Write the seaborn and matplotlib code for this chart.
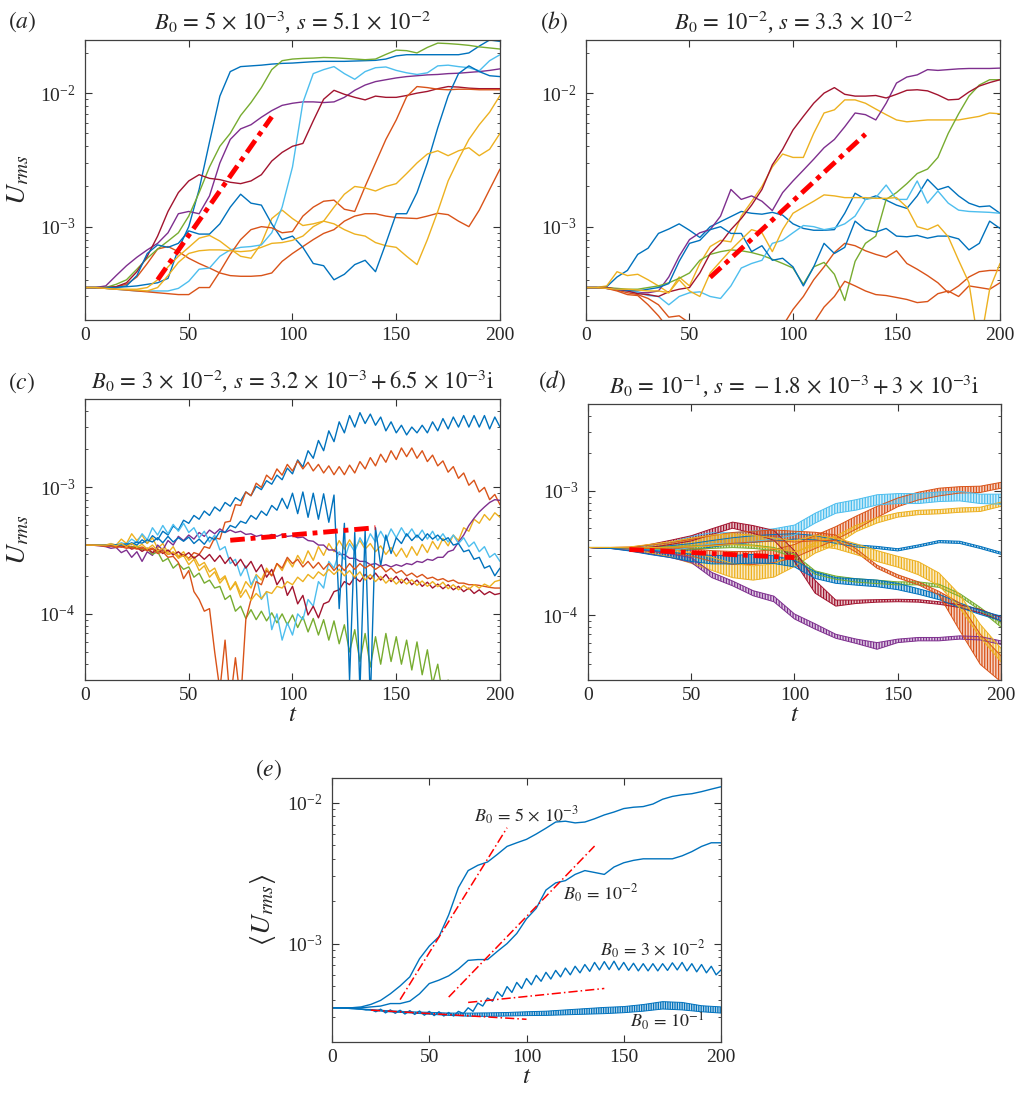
"""
Growth of U_rms for several B0 values, five panels (a)-(e)
"""

import numpy as np
import matplotlib
matplotlib.use("Agg")
import matplotlib.pyplot as plt
from matplotlib.colors import to_rgba
from matplotlib.ticker import NullLocator
import seaborn as sns

# MATLAB default colour order
BLUE, ORANGE, YELLOW, PURPLE = "#0072BD", "#D95319", "#EDB120", "#7E2F8E"
GREEN, LBLUE, DRED = "#77AC30", "#4DBEEE", "#A2142F"

# time grids
t5 = np.arange(0, 201, 5)
t25 = np.arange(0, 200.01, 2.5)
t10 = np.arange(0, 201, 10)

# ---- panel (a), B0 = 5e-3, values in units of 1e-4 on t5
a_blue1 = [3.5, 3.5, 3.5, 3.52, 3.55, 3.6, 3.7, 3.8, 4.1, 6.8, 10, 19, 43, 95, 145, 158, 160, 162, 165, 167,
           168, 170, 172, 173, 173, 173, 174, 175, 176, 180, 190, 194, 194, 194, 194, 194, 194, 200, 225, 250, 244]
a_orangeA = [3.5, 3.5, 3.5, 3.55, 3.7, 4.2, 5.3, 6.8, 7.1, 6.5, 5.8, 5.3, 4.9, 4.5, 4.3, 4.25, 4.25, 4.3, 4.5, 5.5,
             6.3, 7.1, 8.0, 8.9, 9.5, 11, 12, 12.5, 12.5, 12.0, 11.7, 11.6, 11.5, 12.0, 12.6, 12.3, 11.0, 10.0, 13.3, 19, 27]
a_yellowA = [3.5, 3.5, 3.45, 3.4, 3.4, 3.4, 3.5, 4.0, 5.0, 6.0, 7.0, 8.2, 8.6, 7.8, 6.8, 6.0, 5.8, 7.5, 11.5, 13.3,
             11.5, 10.2, 10.5, 11.0, 10.5, 9.5, 8.8, 8.5, 7.6, 7.2, 7.0, 6.0, 5.2, 8.0, 13, 22, 32, 45, 58, 72, 96]
a_purple = [3.5, 3.5, 3.6, 4.3, 5.1, 5.9, 6.7, 7.5, 9.0, 12.5, 13, 12.5, 17, 30, 45, 54, 58, 66, 74, 81,
            84, 86, 86, 85, 86, 93, 105, 115, 122, 126, 130, 133, 135, 137, 138, 140, 141, 143, 145, 148, 152]
a_green = [3.5, 3.5, 3.5, 3.7, 4.0, 4.8, 5.8, 6.8, 7.8, 9.0, 12, 18, 28, 40, 50, 68, 85, 110, 150, 175,
           180, 182, 183, 185, 184, 182, 180, 178, 180, 195, 210, 208, 200, 220, 237, 235, 232, 228, 222, 218, 214]
a_lightblue = [3.5, 3.5, 3.45, 3.4, 3.35, 3.3, 3.3, 3.3, 3.3, 3.45, 3.9, 4.8, 4.9, 6.0, 6.7, 7.0, 7.1, 7.3, 9.0, 14,
               28, 85, 140, 150, 158, 140, 127, 145, 155, 157, 148, 142, 138, 142, 160, 162, 158, 155, 147, 175, 194]
a_darkred = [3.5, 3.5, 3.5, 3.55, 3.8, 4.6, 6.0, 8.5, 13, 18, 22, 24.5, 23, 22.5, 21.5, 21, 22, 24.5, 31, 36,
             40, 42, 62, 90, 105, 98, 93, 89, 95, 93, 93, 96, 100, 103, 108, 112, 111, 109, 108, 108, 108]
a_blue2 = [3.5, 3.5, 3.5, 3.5, 3.6, 4.3, 6.3, 7.3, 7.0, 7.5, 9.3, 8.8, 8.8, 10.5, 14, 17.5, 15, 14.5, 10.5, 8.0,
           8.5, 7.0, 5.3, 5.1, 4.0, 4.4, 5.2, 5.6, 4.6, 7.5, 12.5, 12.5, 18, 30, 55, 95, 140, 160, 145, 135, 133]
a_orangeB = [3.5, 3.5, 3.45, 3.4, 3.35, 3.3, 3.25, 3.2, 3.15, 3.1, 3.1, 3.5, 3.5, 4.6, 6.2, 8.0, 9.5, 10, 9.8, 9.0,
             9.2, 12, 14, 15.5, 15.8, 13.5, 13, 20, 30, 45, 63, 94, 112, 110, 107, 106, 107, 107, 106, 106, 106]
a_yellowB = [3.5, 3.5, 3.45, 3.4, 3.38, 3.35, 3.3, 3.5, 4.3, 5.4, 6.3, 6.6, 6.7, 6.7, 6.6, 6.5, 6.6, 7.0, 7.5, 7.6,
             7.9, 8.5, 10, 11, 14, 17.5, 20, 19.5, 18.5, 20, 21, 25, 30, 35, 37, 34, 37, 39, 34, 38, 50]

# ---- panel (b), B0 = 1e-2, units of 1e-4 on t5
b_blueA = [3.5, 3.5, 3.55, 4.2, 4.7, 6.2, 6.9, 8.9, 9.6, 10.5, 9.4, 8.3, 10, 10.9, 11.9, 13, 12.6, 12.4, 12.8, 12.2,
           10.5, 9.7, 9.4, 9.4, 9.5, 12.6, 17.8, 16, 17, 15.8, 14.5, 13.7, 17, 22.6, 18.9, 20, 17, 15, 14.1, 14.3, 12.6]
b_orangeA = [3.5, 3.5, 3.45, 3.35, 3.2, 3.1, 2.9, 2.6, 2.1, 2.15, 1.9, 1.2, 1.0, 1.0, 1.0, 1.0, 1.0, 1.0, 1.0, 1.8,
             2.4, 3.0, 4.0, 5.0, 6.4, 7.5, 7.2, 6.6, 6.2, 5.9, 6.6, 5.3, 4.8, 4.3, 3.8, 3.2, 3.6, 4.2, 4.6, 4.7, 4.7]
b_yellowA = [3.5, 3.5, 3.6, 4.6, 4.3, 4.4, 4.0, 3.6, 3.2, 4.2, 3.6, 5.3, 7.1, 7.9, 7.7, 12, 15.4, 20, 28, 35,
             33, 33, 50, 71, 75, 89, 89, 84, 76, 69, 63, 61, 62, 63, 63, 63, 63, 65, 67, 71, 70]
b_purple = [3.5, 3.5, 3.45, 3.4, 3.3, 3.2, 3.2, 3.3, 4.2, 6.0, 8.0, 9.0, 9.5, 12, 19, 16, 17, 15.5, 13.2, 18,
            22, 26.5, 32, 39, 45, 56, 71, 69, 63, 84, 119, 132, 137, 150, 148, 150, 152, 153, 153, 153, 154]
b_green = [3.5, 3.5, 3.5, 3.45, 3.4, 3.4, 3.5, 3.6, 3.8, 4.1, 4.5, 5.6, 6.2, 6.5, 6.7, 6.6, 6.4, 6.1, 5.7, 5.3,
           4.9, 3.7, 5.0, 5.4, 4.4, 2.8, 5.5, 7.5, 8.5, 16, 18, 21, 25, 27, 33, 50, 70, 95, 115, 126, 126]
b_lightblue = [3.5, 3.5, 3.45, 3.4, 3.3, 3.2, 3.05, 3.0, 2.6, 3.0, 3.2, 3.25, 3.0, 2.9, 3.6, 4.9, 5.3, 5.6, 7.5, 7.9,
               9.0, 10.2, 10, 9.5, 9.8, 10.5, 12, 16, 16.5, 20.5, 16, 16, 22, 15, 18.5, 15, 13.3, 13, 12.9, 12.8, 12.6]
b_darkred = [3.5, 3.5, 3.5, 3.4, 3.3, 3.15, 3.1, 3.0, 3.25, 3.4, 3.5, 4.5, 6.3, 7.5, 9.5, 11.5, 14.5, 19, 29, 38,
             53, 67, 84, 100, 110, 98, 95, 95, 96, 92, 98, 105, 106, 104, 97, 89, 90, 102, 113, 120, 126]
b_blueB = [3.5, 3.5, 3.45, 3.4, 3.35, 3.3, 3.4, 3.5, 3.75, 5.5, 7.5, 7.9, 9.5, 10, 8.9, 8.9, 6.5, 7.2, 5.6, 5.8,
           5.0, 3.6, 5.0, 7.5, 6.3, 7.0, 11, 9.5, 9.1, 9.7, 8.5, 8.4, 8.6, 8.2, 8.5, 8.5, 8.1, 6.7, 7.5, 11, 9.7]
b_orangeB = [3.5, 3.5, 3.45, 3.3, 3.1, 3.05, 2.6, 2.15, 1.7, 1.2, 1.0, 1.0, 1.0, 1.0, 1.0, 1.0, 1.0, 1.0, 1.0, 1.0,
             1.0, 1.3, 1.9, 2.5, 3.0, 3.9, 3.6, 3.3, 3.1, 3.05, 2.95, 2.85, 2.7, 2.75, 3.15, 3.3, 3.0, 3.6, 3.5, 3.4, 3.8]
b_yellowB = [3.5, 3.5, 3.45, 3.4, 3.4, 3.35, 3.3, 3.3, 3.2, 4.0, 3.3, 3.0, 4.5, 5.5, 6.7, 8.0, 9.5, 9.0, 6.5, 9.5,
             12.6, 14, 15.5, 17.3, 17, 16.5, 16.5, 16.5, 16.3, 16.3, 16.5, 14, 10, 9.5, 10.3, 8.4, 5.6, 3.8, 1.2, 3.4, 5.3]

# ---- panel (c), B0 = 3e-2, units of 1e-4 on t25
c_blue1 = [3.5, 3.5, 3.5, 3.5, 3.5, 3.52, 3.5, 3.56, 3.48, 3.65,
           3.5, 3.85, 3.62, 4.15, 3.85, 4.5, 4.2, 4.95, 4.6, 5.5,
           5.2, 6.0, 5.6, 6.5, 6.0, 7.0, 6.5, 7.6, 7.1, 8.3,
           7.8, 9.2, 8.6, 10.2, 9.6, 11.3, 10.6, 12.5, 11.5, 14.2,
           12.8, 16.5, 14.5, 19.5, 17.0, 23.5, 19.5, 28, 23, 33,
           27, 37, 30, 39, 32, 38, 31, 36, 28, 33,
           27, 31, 26, 30, 27, 31, 27, 33, 28, 35,
           29, 36, 30, 37, 30, 37, 30, 37, 29, 36,
           30]
c_orange1 = [3.5, 3.5, 3.5, 3.48, 3.46, 3.47, 3.42, 3.45, 3.38, 3.42,
             3.3, 3.38, 3.22, 3.32, 3.1, 3.2, 2.95, 3.05, 2.82, 2.95,
             2.75, 3.05, 2.95, 3.4, 3.3, 4.0, 3.9, 5.3, 5.4, 7.3,
             7.2, 9.2, 8.6, 10.8, 10.0, 12.5, 11.5, 14.0, 12.5, 15.2,
             13.5, 16.2, 14.0, 15.8, 13.5, 15.2, 13.0, 14.8, 12.6, 14.6,
             12.6, 15.0, 13.0, 16.0, 14.0, 17.2, 14.8, 18.3, 15.8, 19.5,
             16.6, 20.5, 17.5, 20.5, 17.0, 19.5, 16.0, 18.0, 14.8, 16.2,
             13.2, 14.6, 11.8, 13.0, 10.4, 11.4, 9.2, 10.0, 8.0, 8.8,
             7.3]
c_yellow1 = [3.5, 3.5, 3.5, 3.52, 3.5, 3.6, 3.5, 3.9, 3.6, 4.3,
             3.8, 4.2, 3.6, 4.0, 3.3, 3.6, 3.05, 3.4, 2.85, 3.1,
             2.65, 2.85, 2.4, 2.55, 2.15, 2.3, 1.85, 2.0, 1.55, 1.8,
             1.45, 1.8, 1.6, 2.05, 1.85, 2.3, 2.0, 2.5, 2.2, 2.7,
             2.35, 2.9, 2.5, 3.15, 2.65, 3.4, 2.9, 3.6, 3.1, 3.8,
             3.25, 3.85, 3.3, 3.8, 3.25, 3.6, 3.1, 3.45, 2.95, 3.35,
             2.85, 3.3, 2.8, 3.4, 2.9, 3.55, 3.05, 3.75, 3.25, 3.95,
             3.45, 4.2, 3.8, 4.8, 4.5, 5.6, 5.2, 6.1, 5.5, 6.3,
             5.8]
c_purple = [3.5, 3.5, 3.48, 3.45, 3.4, 3.3, 3.35, 3.05, 3.2, 2.8,
            3.1, 2.6, 3.1, 2.9, 3.5, 3.2, 3.8, 3.5, 4.1, 3.8,
            4.2, 3.9, 4.4, 4.1, 4.6, 4.3, 4.7, 4.4, 4.6, 4.4,
            4.5, 4.25, 4.3, 4.1, 4.2, 4.05, 4.25, 4.1, 4.25, 4.1,
            4.15, 4.0, 4.05, 3.8, 3.75, 3.5, 3.5, 3.2, 3.2, 2.95,
            2.95, 2.75, 2.75, 2.6, 2.6, 2.45, 2.5, 2.38, 2.45, 2.35,
            2.45, 2.38, 2.5, 2.45, 2.6, 2.55, 2.7, 2.65, 2.8, 2.8,
            3.1, 3.2, 3.7, 4.2, 5.0, 5.7, 6.4, 7.0, 7.6, 8.0,
            7.9]
c_green = [3.5, 3.5, 3.5, 3.48, 3.5, 3.45, 3.5, 3.4, 3.5, 3.35,
           3.45, 3.2, 3.3, 2.95, 3.1, 2.6, 2.75, 2.3, 2.5, 2.25,
           2.35, 1.95, 2.1, 1.75, 1.85, 1.6, 1.65, 1.3, 1.4, 1.05,
           1.15, 0.92, 1.08, 0.9, 1.05, 0.88, 1.02, 0.85, 1.0, 0.82,
           0.98, 0.78, 0.95, 0.72, 0.92, 0.68, 0.9, 0.62, 0.88, 0.58,
           0.82, 0.5, 0.75, 0.42, 0.7, 0.38, 0.66, 0.4, 0.7, 0.42,
           0.66, 0.4, 0.62, 0.36, 0.6, 0.33, 0.52, 0.28, 0.4, 0.22,
           0.3, 0.18, 0.2, 0.15, 0.15, 0.12, 0.1, 0.1, 0.1, 0.1,
           0.1]
c_lightblue = [3.5, 3.5, 3.5, 3.52, 3.5, 3.55, 3.5, 3.65, 3.55, 3.9,
               3.65, 4.3, 3.85, 4.8, 4.2, 5.0, 4.3, 5.1, 4.5, 5.2,
               4.4, 4.8, 4.0, 4.5, 3.7, 4.2, 3.2, 3.4, 2.5, 2.7,
               2.0, 2.4, 1.7, 2.0, 1.3, 1.5, 0.75, 1.0, 0.62, 0.85,
               0.68, 1.0, 0.9, 1.3, 1.15, 1.8, 1.6, 2.6, 2.3, 3.1,
               2.7, 3.6, 3.1, 4.0, 3.4, 4.3, 3.7, 4.5, 3.8, 4.7,
               4.0, 4.8, 4.1, 4.7, 4.0, 4.6, 3.9, 4.5, 3.8, 4.3,
               3.7, 4.2, 3.6, 4.0, 3.4, 3.7, 3.1, 3.4, 2.8, 3.0,
               2.6]
c_darkred = [3.5, 3.5, 3.5, 3.48, 3.5, 3.45, 3.48, 3.38, 3.45, 3.25,
             3.35, 3.12, 3.3, 3.05, 3.25, 3.0, 3.2, 2.92, 3.1, 2.85,
             3.05, 2.75, 2.95, 2.7, 2.95, 2.6, 2.9, 2.5, 2.8, 2.4,
             2.7, 2.3, 2.6, 2.15, 2.45, 1.95, 2.25, 1.7, 1.95, 1.4,
             1.65, 1.2, 1.4, 0.98, 1.15, 0.93, 1.2, 1.25, 1.5, 1.55,
             1.8, 1.7, 1.95, 1.8, 2.05, 1.88, 2.1, 1.85, 2.05, 1.8,
             1.98, 1.75, 1.92, 1.7, 1.85, 1.65, 1.78, 1.6, 1.72, 1.58,
             1.7, 1.55, 1.65, 1.5, 1.6, 1.45, 1.55, 1.42, 1.5, 1.42,
             1.45]
c_blue2 = [3.5, 3.5, 3.5, 3.5, 3.5, 3.5, 3.52, 3.5, 3.58, 3.55,
           3.7, 3.62, 3.85, 3.7, 4.0, 3.65, 4.1, 3.7, 4.0, 3.75,
           4.05, 3.6, 3.9, 3.55, 4.05, 3.85, 4.5, 4.4, 5.0, 4.8,
           5.4, 5.2, 6.0, 5.6, 6.5, 6.0, 7.2, 6.6, 8.2, 6.8,
           9.0, 6.2, 9.2, 5.8, 9.0, 5.6, 8.9, 5.3, 8.7, 1.1,
           5.2, 0.3, 4.4, 0.25, 4.6, 0.2, 4.8, 2.4, 4.2, 3.0,
           4.0, 3.6, 4.3, 3.8, 4.2, 3.8, 4.3, 3.9, 4.2, 3.8,
           4.0, 3.5, 3.6, 3.1, 3.2, 2.7, 2.8, 2.3, 2.4, 2.0,
           2.3]
c_orange2 = [3.5, 3.5, 3.48, 3.46, 3.42, 3.44, 3.35, 3.4, 3.3, 3.35,
             3.25, 3.3, 3.15, 3.25, 3.0, 3.1, 2.8, 2.85, 2.55, 1.9,
             2.2, 1.5, 1.3, 1.05, 1.1, 0.5, 0.25, 0.62, 0.2, 0.45,
             0.2, 0.9, 1.3, 1.8, 1.7, 2.2, 2.0, 2.5, 2.3, 2.8,
             2.5, 2.7, 2.35, 2.6, 2.3, 2.55, 2.25, 2.5, 2.2, 2.45,
             2.2, 2.5, 2.25, 2.5, 2.3, 2.45, 2.25, 2.4, 2.15, 2.3,
             2.1, 2.2, 2.0, 2.1, 1.95, 2.05, 1.9, 1.95, 1.85, 1.9,
             1.8, 1.85, 1.75, 1.75, 1.7, 1.7, 1.68, 1.65, 1.62, 1.6,
             1.6]
c_yellow2 = [3.5, 3.5, 3.5, 3.5, 3.5, 3.55, 3.45, 3.6, 3.4, 3.6,
             3.35, 3.55, 3.25, 3.5, 3.15, 3.3, 2.95, 3.1, 2.75, 2.9,
             2.45, 2.7, 2.2, 2.4, 1.95, 2.15, 1.75, 1.95, 1.55, 1.75,
             1.35, 1.55, 1.28, 1.45, 1.32, 1.5, 1.45, 1.65, 1.6, 1.8,
             1.7, 1.95, 1.8, 2.05, 1.9, 2.15, 2.0, 2.25, 2.05, 2.25,
             2.0, 2.2, 1.95, 2.15, 1.85, 2.05, 1.8, 1.98, 1.75, 1.92,
             1.72, 1.88, 1.72, 1.86, 1.68, 1.82, 1.65, 1.8, 1.64, 1.78,
             1.58, 1.7, 1.55, 1.68, 1.56, 1.7, 1.6, 1.72, 1.64, 1.8,
             1.85]

# ---- panel (d), B0 = 1e-1: fast oscillations, lower/upper envelope, units of 1e-4 on t10
d_blue1_lo = [3.5, 3.45, 3.37, 3.3, 3.28, 3.34, 3.53, 3.71, 3.85, 3.95, 4.09, 4.03, 3.78, 3.53, 3.43, 3.28, 3.53, 3.82, 3.77, 3.43, 3.08]
d_blue1_hi = [3.5, 3.45, 3.43, 3.5, 3.62, 3.76, 3.98, 4.19, 4.35, 4.45, 4.52, 4.37, 4.02, 3.67, 3.57, 3.42, 3.67, 3.98, 3.93, 3.57, 3.2]
d_orange1_lo = [3.5, 3.45, 3.37, 3.25, 3.14, 2.98, 2.7, 2.55, 2.55, 2.64, 2.9, 3.43, 4.05, 4.93, 6.1, 7.45, 8.45, 9.1, 9.6, 9.7, 10.5]
d_orange1_hi = [3.5, 3.45, 3.43, 3.45, 3.47, 3.42, 3.3, 3.25, 3.25, 3.36, 3.7, 4.37, 5.15, 6.27, 7.5, 8.75, 9.75, 10.5, 10.8, 10.9, 11.7]
d_yellow1_lo = [3.5, 3.45, 3.37, 3.17, 2.93, 2.61, 2.29, 2.0, 1.91, 2.02, 2.46, 3.15, 3.68, 4.7, 5.51, 6.14, 6.43, 6.53, 6.72, 6.82, 7.49]
d_yellow1_hi = [3.5, 3.45, 3.43, 3.43, 3.37, 3.19, 2.91, 2.6, 2.49, 2.58, 3.14, 3.85, 4.32, 5.3, 6.09, 6.66, 6.97, 7.07, 7.28, 7.38, 8.11]
d_purple_lo = [3.5, 3.45, 3.3, 3.1, 2.9, 2.65, 2.0, 1.72, 1.43, 1.28, 0.93, 0.77, 0.65, 0.59, 0.53, 0.6, 0.62, 0.62, 0.64, 0.63, 0.58]
d_purple_hi = [3.5, 3.45, 3.4, 3.3, 3.1, 2.9, 2.2, 1.88, 1.57, 1.42, 1.02, 0.85, 0.7, 0.64, 0.6, 0.64, 0.66, 0.66, 0.68, 0.67, 0.62]
d_green_lo = [3.5, 3.5, 3.43, 3.38, 3.35, 3.4, 3.44, 3.49, 3.44, 3.3, 2.91, 2.13, 1.94, 1.84, 1.79, 1.75, 1.75, 1.67, 1.41, 1.09, 0.8]
d_green_hi = [3.5, 3.5, 3.47, 3.52, 3.55, 3.6, 3.66, 3.71, 3.66, 3.5, 3.09, 2.27, 2.06, 1.96, 1.91, 1.85, 1.85, 1.77, 1.49, 1.15, 0.86]
d_lightblue_lo = [3.5, 3.48, 3.4, 3.35, 3.3, 3.5, 3.75, 3.75, 3.9, 4.1, 4.4, 5.5, 6.6, 7.0, 7.7, 7.9, 7.9, 8.2, 8.3, 7.9, 7.8]
d_lightblue_hi = [3.5, 3.48, 3.5, 3.65, 3.85, 4.3, 4.6, 4.6, 4.75, 4.95, 5.3, 6.6, 7.9, 8.5, 9.3, 9.5, 9.5, 9.8, 9.9, 9.4, 9.4]
d_darkred_lo = [3.5, 3.45, 3.42, 3.5, 3.7, 3.95, 4.45, 5.0, 4.55, 4.0, 2.7, 1.5, 1.18, 1.24, 1.27, 1.28, 1.27, 1.22, 1.15, 1.04, 0.9]
d_darkred_hi = [3.5, 3.45, 3.48, 3.7, 4.0, 4.35, 4.95, 5.6, 5.25, 4.8, 3.3, 1.9, 1.32, 1.32, 1.33, 1.34, 1.33, 1.28, 1.21, 1.11, 0.96]
d_blue2_lo = [3.5, 3.45, 3.28, 3.07, 2.9, 2.7, 2.58, 2.58, 2.62, 2.6, 2.44, 1.97, 1.8, 1.74, 1.69, 1.6, 1.47, 1.33, 1.15, 1.01, 0.9]
d_blue2_hi = [3.5, 3.45, 3.42, 3.33, 3.2, 3.1, 3.02, 3.02, 3.08, 3.0, 2.76, 2.23, 2.0, 1.96, 1.91, 1.8, 1.63, 1.47, 1.25, 1.09, 0.98]
d_orange2_lo = [3.5, 3.5, 3.47, 3.44, 3.47, 3.53, 3.64, 3.78, 3.87, 3.96, 3.87, 3.96, 3.99, 3.2, 2.38, 1.99, 1.75, 1.45, 0.75, 0.4, 0.29]
d_orange2_hi = [3.5, 3.5, 3.53, 3.66, 3.83, 4.07, 4.36, 4.62, 4.73, 4.84, 4.73, 4.64, 4.41, 3.4, 2.52, 2.11, 1.85, 1.55, 1.25, 0.7, 0.47]
d_yellow2_lo = [3.5, 3.5, 3.47, 3.49, 3.52, 3.54, 3.6, 3.69, 3.6, 3.42, 3.24, 3.6, 3.42, 3.06, 2.7, 2.43, 2.11, 1.72, 1.14, 0.66, 0.42]
d_yellow2_hi = [3.5, 3.5, 3.53, 3.71, 3.89, 4.16, 4.4, 4.51, 4.4, 4.18, 3.96, 4.4, 4.18, 3.74, 3.3, 2.97, 2.69, 2.18, 1.46, 0.84, 0.54]

# ---- panel (e), ensemble averages, units of 1e-4
e_b5e3 = [3.5, 3.5, 3.5, 3.55, 3.7, 3.95, 4.4, 5.0, 5.8, 7.8, 9.6, 11.2, 16, 25, 33, 36, 38, 43, 49, 52,
          55, 60, 66, 73, 74, 72, 73, 77, 82, 86, 91, 93, 94, 98, 106, 111, 114, 116, 120, 125, 130]
e_b1e2 = [3.5, 3.5, 3.5, 3.5, 3.55, 3.6, 3.75, 3.75, 3.9, 4.4, 5.2, 5.5, 5.9, 6.6, 7.6, 7.7, 7.7, 8.8, 10, 11.8,
          15, 17.8, 24, 27, 28, 31, 33, 32, 31, 35, 37.5, 39, 40, 40, 40, 40, 42, 45, 49, 52, 52]
e_b3e2 = [3.5, 3.5, 3.49, 3.48, 3.45, 3.43, 3.42, 3.38, 3.40, 3.28,
          3.42, 3.22, 3.38, 3.2, 3.36, 3.16, 3.34, 3.14, 3.32, 3.1,
          3.3, 3.08, 3.28, 3.06, 3.24, 3.06, 3.3, 3.18, 3.5, 3.3,
          3.78, 3.6, 4.1, 3.9, 4.55, 4.2, 4.95, 4.5, 5.3, 4.8,
          5.65, 5.1, 5.95, 5.4, 6.25, 5.6, 6.45, 5.8, 6.7, 6.0,
          6.9, 6.2, 7.1, 6.35, 7.35, 6.5, 7.45, 6.55, 7.5, 6.5,
          7.35, 6.45, 7.25, 6.4, 7.2, 6.4, 7.2, 6.4, 7.2, 6.45,
          7.3, 6.5, 7.35, 6.4, 7.2, 6.3, 7.1, 6.2, 6.9, 6.0,
          6.5]
e_b1e1_lo = [3.5, 3.48, 3.36, 3.27, 3.22, 3.15, 3.09, 3.05, 3.04, 3.06, 3.08, 3.09, 3.12, 3.15, 3.18, 3.23, 3.31, 3.43, 3.38, 3.28, 3.21]
e_b1e1_hi = [3.5, 3.48, 3.40, 3.33, 3.28, 3.25, 3.21, 3.21, 3.22, 3.24, 3.28, 3.31, 3.38, 3.45, 3.52, 3.57, 3.69, 3.87, 3.82, 3.62, 3.55]
e_label_text = [r"$B_0 \,=\, 5 \,\times\, 10^{-3}$", r"$B_0 \,=\, 10^{-2}$",
                r"$B_0 \,=\, 3 \,\times\, 10^{-2}$", r"$B_0 \,=\, 10^{-1}$"]
e_label_t = [73, 119, 138, 153]
e_label_u = [8.1e-3, 2.27e-3, 9.0e-4, 2.8e-4]

# exponential fits exp(s t): start/end time and value, for B0 = 5e-3, 1e-2, 3e-2, 1e-1
fit_t_start = [35, 60, 70, 20]
fit_t_end = [90, 135, 140, 100]
fit_u_start = [4.0e-4, 4.17e-4, 3.82e-4, 3.37e-4]
fit_u_end = [6.65e-3, 4.93e-3, 4.8e-4, 2.9e-4]

titles = [r"$B_0 \,=\, 5 \,\times\, 10^{-3}$, $s \,=\, 5.1 \,\times\, 10^{-2}$",
          r"$B_0 \,=\, 10^{-2}$, $s \,=\, 3.3 \,\times\, 10^{-2}$",
          r"$B_0 \,=\, 3 \,\times\, 10^{-2}$, $s \,=\, 3.2 \,\times\, 10^{-3} + 6.5 \,\times\, 10^{-3}\mathrm{i}$",
          r"$B_0 \,=\, 10^{-1}$, $s \,=\, -1.8 \,\times\, 10^{-3} + 3 \,\times\, 10^{-3}\mathrm{i}$"]

sns.set_theme(style="ticks")
plt.rcParams["font.family"] = ["Liberation Serif", "DejaVu Serif"]
plt.rcParams["mathtext.fontset"] = "stix"
plt.rcParams["hatch.linewidth"] = 0.9

W, H = 1020, 1098
fig = plt.figure(figsize=(W / 100, H / 100), dpi=100)


def px_axes(l, t, r, b):
    return fig.add_axes([l / W, 1 - b / H, (r - l) / W, (b - t) / H])


def draw(ax, t, vals, color, lw=1.0):
    sns.lineplot(x=t, y=np.asarray(vals) * 1e-4, color=color, linewidth=lw,
                 ax=ax, estimator=None, sort=False, legend=False)


def band(ax, t, lo, hi, color, hatch="||||||"):
    # fast oscillation drawn as its envelope, hatched to look like a dense zigzag
    lo = np.asarray(lo) * 1e-4
    hi = np.asarray(hi) * 1e-4
    ax.fill_between(t, lo, hi, facecolor=to_rgba(color, 0.25), edgecolor=color,
                    hatch=hatch, linewidth=0)
    sns.lineplot(x=t, y=lo, color=color, linewidth=0.7, ax=ax, estimator=None, sort=False, legend=False)
    sns.lineplot(x=t, y=hi, color=color, linewidth=0.7, ax=ax, estimator=None, sort=False, legend=False)


def fit(ax, i, lw=3.5, dash=(3, 1.2, 1, 1.2)):
    ax.plot([fit_t_start[i], fit_t_end[i]], [fit_u_start[i], fit_u_end[i]],
            color="red", lw=lw, ls=(0, dash), zorder=10, solid_capstyle="butt")


def setup(ax, ylim, xlabel=False, ylabel=None):
    ax.set_yscale("log")
    ax.set_xlim(0, 200)
    ax.set_ylim(*ylim)
    ax.set_xticks([0, 50, 100, 150, 200])
    ax.xaxis.set_minor_locator(NullLocator())
    ax.tick_params(which="both", direction="in", top=True, right=True, labelsize=14, color="0.2")
    ax.tick_params(which="major", length=5, width=0.8)
    ax.tick_params(which="minor", length=2.5, width=0.6)
    ax.tick_params(axis="y", pad=7)
    ax.tick_params(axis="x", pad=5)
    for sp in ax.spines.values():
        sp.set_color("0.25")
        sp.set_linewidth(0.9)
    ax.set_xlabel(r"$t$" if xlabel else "", fontsize=18, labelpad=0)
    ax.set_ylabel(ylabel if ylabel else "", fontsize=20, labelpad=6)


TFS = 16.3

# (a)
ax = px_axes(85, 40, 500, 320)
ax.set_yscale("log")
for vals, c in [(a_blue1, BLUE), (a_orangeA, ORANGE), (a_yellowA, YELLOW), (a_purple, PURPLE),
                (a_green, GREEN), (a_lightblue, LBLUE), (a_darkred, DRED), (a_blue2, BLUE),
                (a_orangeB, ORANGE), (a_yellowB, YELLOW)]:
    draw(ax, t5, vals, c)
fit(ax, 0)
setup(ax, (2e-4, 2.5e-2), ylabel=r"$U_{rms}$")
ax.set_title(titles[0], fontsize=TFS, pad=7)

# (b)
ax = px_axes(586, 40, 1000, 320)
ax.set_yscale("log")
for vals, c in [(b_blueA, BLUE), (b_orangeA, ORANGE), (b_yellowA, YELLOW), (b_purple, PURPLE),
                (b_green, GREEN), (b_lightblue, LBLUE), (b_darkred, DRED), (b_blueB, BLUE),
                (b_orangeB, ORANGE), (b_yellowB, YELLOW)]:
    draw(ax, t5, vals, c)
fit(ax, 1)
setup(ax, (2e-4, 2.5e-2))
ax.set_title(titles[1], fontsize=TFS, pad=7)

# (c)
ax = px_axes(85, 399, 500, 680)
ax.set_yscale("log")
for vals, c in [(c_blue1, BLUE), (c_orange1, ORANGE), (c_yellow1, YELLOW), (c_purple, PURPLE),
                (c_green, GREEN), (c_lightblue, LBLUE), (c_darkred, DRED), (c_blue2, BLUE),
                (c_orange2, ORANGE), (c_yellow2, YELLOW)]:
    draw(ax, t25, vals, c)
fit(ax, 2)
setup(ax, (3e-5, 5e-3), xlabel=True, ylabel=r"$U_{rms}$")
ax.set_title(titles[2], fontsize=TFS, pad=7)

# (d)
ax = px_axes(588, 404, 1001, 680)
ax.set_yscale("log")
for lo, hi, c in [(d_blue1_lo, d_blue1_hi, BLUE), (d_orange1_lo, d_orange1_hi, ORANGE),
                  (d_yellow1_lo, d_yellow1_hi, YELLOW), (d_purple_lo, d_purple_hi, PURPLE),
                  (d_green_lo, d_green_hi, GREEN), (d_lightblue_lo, d_lightblue_hi, LBLUE),
                  (d_darkred_lo, d_darkred_hi, DRED), (d_blue2_lo, d_blue2_hi, BLUE),
                  (d_orange2_lo, d_orange2_hi, ORANGE), (d_yellow2_lo, d_yellow2_hi, YELLOW)]:
    band(ax, t10, lo, hi, c)
fit(ax, 3)
setup(ax, (3e-5, 5e-3), xlabel=True)
ax.set_title(titles[3], fontsize=TFS, pad=7)

# (e)
ax = px_axes(332, 778, 721, 1042)
ax.set_yscale("log")
draw(ax, t5, e_b5e3, BLUE)
draw(ax, t5, e_b1e2, BLUE)
draw(ax, t25, e_b3e2, BLUE)
band(ax, t10, e_b1e1_lo, e_b1e1_hi, BLUE, hatch="|||||||")
for i in range(4):
    fit(ax, i, lw=1.1, dash=(6, 2, 1, 2))
for txt, tt, uu in zip(e_label_text, e_label_t, e_label_u):
    ax.text(tt, uu, txt, fontsize=13, ha="left", va="center")
setup(ax, (2e-4, 1.5e-2), xlabel=True, ylabel=r"$\langle U_{rms} \rangle$")

# panel letters
for lab, x, y in [("(a)", 8, 22), ("(b)", 540, 22), ("(c)", 8, 383), ("(d)", 538, 381), ("(e)", 255, 770)]:
    fig.text(x / W, 1 - y / H, r"$%s$" % lab, fontsize=17, ha="left", va="center")

fig.savefig("out.png", dpi=100)
